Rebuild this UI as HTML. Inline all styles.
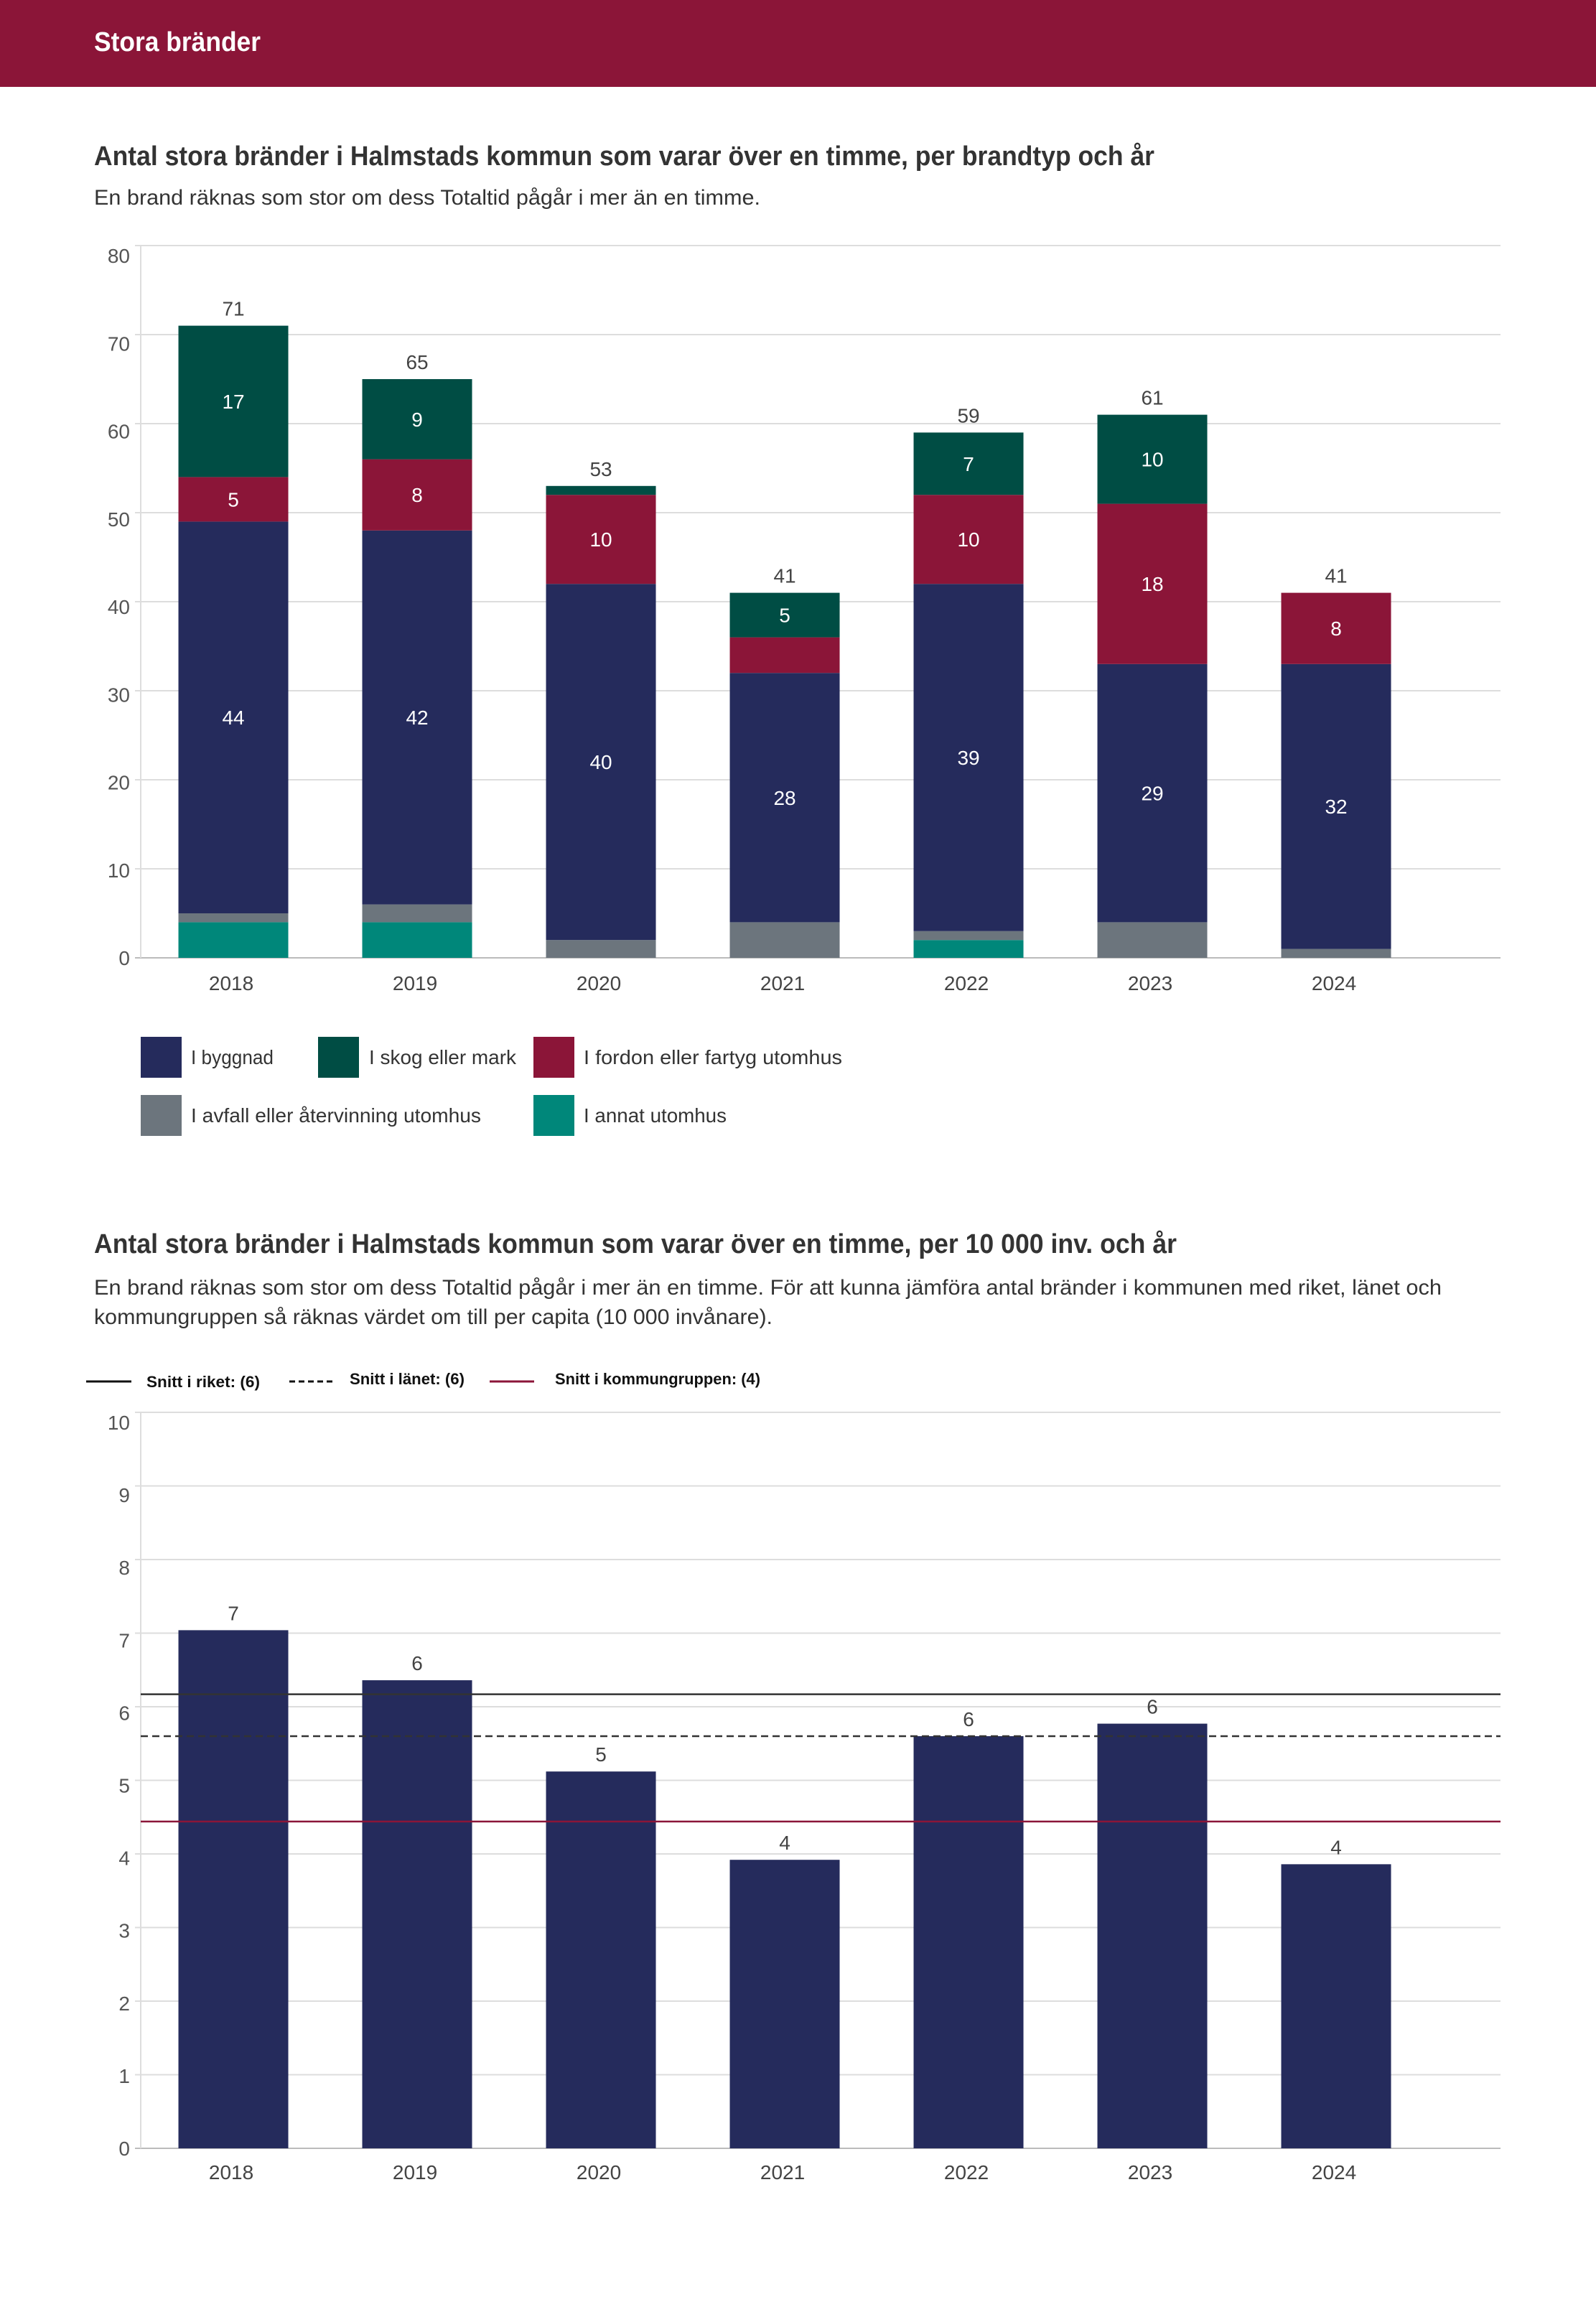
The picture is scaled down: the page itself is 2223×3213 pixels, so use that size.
<!DOCTYPE html>
<html><head><meta charset="utf-8">
<style>
html,body{margin:0;padding:0;background:#fff;}
svg{display:block;font-family:"Liberation Sans",sans-serif;}
</style></head>
<body>
<svg id="root" width="2223" height="3213" viewBox="0 0 2223 3213" xmlns="http://www.w3.org/2000/svg">
<rect x="0" y="0" width="2223" height="121" fill="#8B1538"/>
<text x="131" y="71" font-size="38" font-weight="bold" fill="#fff" textLength="232" lengthAdjust="spacingAndGlyphs">Stora bränder</text>
<text x="131" y="230" font-size="38" font-weight="bold" fill="#333" textLength="1477" lengthAdjust="spacingAndGlyphs">Antal stora bränder i Halmstads kommun som varar över en timme, per brandtyp och år</text>
<text x="131" y="285" font-size="30" fill="#333" textLength="928" lengthAdjust="spacingAndGlyphs">En brand räknas som stor om dess Totaltid pågår i mer än en timme.</text>
<g id="c1"></g>
<g>
<rect x="196" y="1444" width="57" height="57" fill="#252B5C"/>
<text x="266" y="1482" font-size="28" fill="#333" textLength="115" lengthAdjust="spacingAndGlyphs">I byggnad</text>
<rect x="443" y="1444" width="57" height="57" fill="#004D44"/>
<text x="514" y="1482" font-size="28" fill="#333" textLength="205" lengthAdjust="spacingAndGlyphs">I skog eller mark</text>
<rect x="743" y="1444" width="57" height="57" fill="#8B1538"/>
<text x="813" y="1482" font-size="28" fill="#333" textLength="360" lengthAdjust="spacingAndGlyphs">I fordon eller fartyg utomhus</text>
<rect x="196" y="1525" width="57" height="57" fill="#6C757D"/>
<text x="266" y="1563" font-size="28" fill="#333" textLength="404" lengthAdjust="spacingAndGlyphs">I avfall eller återvinning utomhus</text>
<rect x="743" y="1525" width="57" height="57" fill="#00877A"/>
<text x="813" y="1563" font-size="28" fill="#333" textLength="199" lengthAdjust="spacingAndGlyphs">I annat utomhus</text>
</g>
<text x="131" y="1745" font-size="38" font-weight="bold" fill="#333" textLength="1508" lengthAdjust="spacingAndGlyphs">Antal stora bränder i Halmstads kommun som varar över en timme, per 10 000 inv. och år</text>
<text x="131" y="1803" font-size="30" fill="#333" textLength="1877" lengthAdjust="spacingAndGlyphs">En brand räknas som stor om dess Totaltid pågår i mer än en timme. För att kunna jämföra antal bränder i kommunen med riket, länet och</text>
<text x="131" y="1844" font-size="30" fill="#333" textLength="945" lengthAdjust="spacingAndGlyphs">kommungruppen så räknas värdet om till per capita (10 000 invånare).</text>
<g>
<line x1="120" y1="1924" x2="183" y2="1924" stroke="#111" stroke-width="3"/>
<text x="204" y="1932" font-size="22" font-weight="bold" fill="#111" textLength="158" lengthAdjust="spacingAndGlyphs">Snitt i riket: (6)</text>
<line x1="403" y1="1924" x2="463" y2="1924" stroke="#111" stroke-width="3" stroke-dasharray="8,5"/>
<text x="487" y="1928" font-size="22" font-weight="bold" fill="#111" textLength="160" lengthAdjust="spacingAndGlyphs">Snitt i länet: (6)</text>
<line x1="682" y1="1924" x2="744" y2="1924" stroke="#8B1538" stroke-width="3"/>
<text x="773" y="1928" font-size="22" font-weight="bold" fill="#111" textLength="286" lengthAdjust="spacingAndGlyphs">Snitt i kommungruppen: (4)</text>
</g>
<g id="c2"></g>
</svg>
<script>
const years = ["2018","2019","2020","2021","2022","2023","2024"];
const annat   = [4, 4, 0, 0, 2, 0, 0];
const avfall  = [1, 2, 2, 4, 1, 4, 1];
const byggnad = [44, 42, 40, 28, 39, 29, 32];
const fordon  = [5, 8, 10, 4, 10, 18, 8];
const skog    = [17, 9, 1, 5, 7, 10, 0];
const ticks1 = [0,10,20,30,40,50,60,70,80];

const perCapita = [7.04, 6.36, 5.12, 3.92, 5.6, 5.77, 3.86];
const perCapitaLabels = ["7","6","5","4","6","6","4"];
const ticks2 = [0,1,2,3,4,5,6,7,8,9,10];
const avgRiket = [6.17];
const avgLanet = [5.6];
const avgKommungrupp = [4.44];

const NS = "http://www.w3.org/2000/svg";
function mk(tag, attrs, parent, txt){
  const e = document.createElementNS(NS, tag);
  for (const k in attrs) e.setAttribute(k, attrs[k]);
  if (txt !== undefined) e.textContent = txt;
  parent.appendChild(e);
  return e;
}
const plotL = 196, plotR = 2090, band = 256, barW = 153;
function xCenter(i){ return plotL + band*0.504 + i*band; }

// Chart 1
const c1 = document.getElementById('c1');
const y1 = v => 1334 - v*12.4;
ticks1.forEach(t => {
  const gl = mk('line', {x1:plotL-8, x2:plotR, y1:y1(t), y2:y1(t), stroke: t===0?'#bbb':'#ddd', 'stroke-width':2}, c1);
  
  
  const tl = mk('text', {x:181, y:y1(t)+10+(t/80)*14, 'font-size':28, fill:'#555', 'text-anchor':'end'}, c1, String(t));
  
  
});
const ax1 = mk('line', {x1:plotL, x2:plotL, y1:y1(80), y2:y1(0), stroke:'#ddd', 'stroke-width':2}, c1);


const series = [
  {name:'annat', vals:annat, color:'#00877A'},
  {name:'avfall', vals:avfall, color:'#6C757D'},
  {name:'byggnad', vals:byggnad, color:'#252B5C'},
  {name:'fordon', vals:fordon, color:'#8B1538'},
  {name:'skog', vals:skog, color:'#004D44'}
];
years.forEach((yr, i) => {
  let acc = 0;
  const cx = xCenter(i);
  series.forEach(s => {
    const v = s.vals[i];
    if (v > 0) {
      const r = mk('rect', {x:cx-barW/2, y:y1(acc+v), width:barW, height:y1(acc)-y1(acc+v), fill:s.color}, c1);
      
      
      if (v >= 5) {
        const l = mk('text', {x:cx, y:(y1(acc)+y1(acc+v))/2+10, 'font-size':28, fill:'#fff', 'text-anchor':'middle'}, c1, String(v));
        
        
      }
    }
    acc += v;
  });
  const tot = mk('text', {x:cx, y:y1(acc)-14, 'font-size':28, fill:'#444', 'text-anchor':'middle'}, c1, String(acc));
  
  
  const xl = mk('text', {x:cx-3, y:1379, 'font-size':28, fill:'#444', 'text-anchor':'middle'}, c1, yr);
  
  
});

// Chart 2
const c2 = document.getElementById('c2');
const y2 = v => 2992 - v*102.5;
ticks2.forEach(t => {
  const gl = mk('line', {x1:plotL-8, x2:plotR, y1:y2(t), y2:y2(t), stroke: t===0?'#bbb':'#ddd', 'stroke-width':2}, c2);
  
  
  const tl = mk('text', {x:181, y:y2(t)+10+(t/10)*14, 'font-size':28, fill:'#555', 'text-anchor':'end'}, c2, String(t));
  
  
});
const ax2 = mk('line', {x1:plotL, x2:plotL, y1:y2(10), y2:y2(0), stroke:'#ddd', 'stroke-width':2}, c2);


years.forEach((yr, i) => {
  const cx = xCenter(i);
  const r = mk('rect', {x:cx-barW/2, y:y2(perCapita[i]), width:barW, height:y2(0)-y2(perCapita[i]), fill:'#252B5C'}, c2);
  
  
  const l = mk('text', {x:cx, y:y2(perCapita[i])-14, 'font-size':28, fill:'#444', 'text-anchor':'middle'}, c2, perCapitaLabels[i]);
  
  
  const xl = mk('text', {x:cx-3, y:3035, 'font-size':28, fill:'#444', 'text-anchor':'middle'}, c2, yr);
  
  
});
const lr = mk('line', {x1:plotL, x2:plotR, y1:y2(avgRiket[0]), y2:y2(avgRiket[0]), stroke:'#333', 'stroke-width':2.5}, c2);


const ll = mk('line', {x1:plotL, x2:plotR, y1:y2(avgLanet[0]), y2:y2(avgLanet[0]), stroke:'#333', 'stroke-width':2.5, 'stroke-dasharray':'10,6'}, c2);


const lk = mk('line', {x1:plotL, x2:plotR, y1:y2(avgKommungrupp[0]), y2:y2(avgKommungrupp[0]), stroke:'#8B1538', 'stroke-width':2.5}, c2);


</script>
</body></html>
